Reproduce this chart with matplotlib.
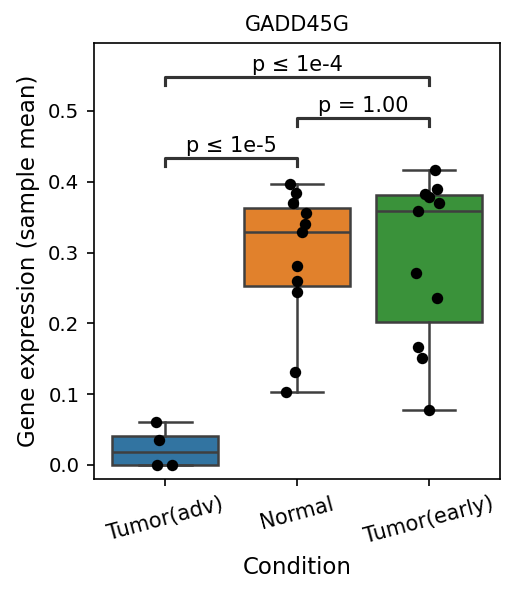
import numpy as np
import matplotlib
matplotlib.use('Agg')
import matplotlib.pyplot as plt

#input data================
conditions = ['Tumor(adv)', 'Normal', 'Tumor(early)']
tumor_adv = [0.060, 0.035, 0.0, 0.0]
normal = [0.397, 0.384, 0.370, 0.356, 0.340, 0.329, 0.281, 0.260, 0.244, 0.131, 0.103]
tumor_early = [0.417, 0.390, 0.383, 0.379, 0.370, 0.359, 0.271, 0.236, 0.167, 0.151, 0.078]
# strip jitter (category units)
jitter_adv = [-0.073, -0.05, -0.063, 0.055]
jitter_normal = [-0.053, -0.01, -0.028, 0.07, 0.063, 0.038, 0.0, 0.0, 0.0, -0.013, -0.08]
jitter_early = [0.05, 0.058, -0.03, 0.0, 0.078, -0.086, -0.096, 0.063, -0.086, -0.05, 0.0]
# significance brackets: (group a, group b, height, label)
pairs = [(0, 1, 0.433, 'p ≤ 1e-5'),
         (1, 2, 0.490, 'p = 1.00'),
         (0, 2, 0.548, 'p ≤ 1e-4')]
#==========================

groups = [tumor_adv, normal, tumor_early]
jitters = [jitter_adv, jitter_normal, jitter_early]
box_colors = ['#3274a1', '#e1812c', '#3a923a']
line_col = '#3f3f3f'

fig = plt.figure(figsize=(515/150, 594/150), dpi=150)
ax = fig.add_axes([0.1825, 0.1936, 0.7885, 0.734])

bp = ax.boxplot(groups, positions=range(len(groups)), widths=0.8,
                patch_artist=True, showfliers=False,
                medianprops=dict(color=line_col, linewidth=1.2),
                whiskerprops=dict(color=line_col, linewidth=1.2),
                capprops=dict(color=line_col, linewidth=1.2),
                boxprops=dict(edgecolor=line_col, linewidth=1.2))
for patch, c in zip(bp['boxes'], box_colors):
    patch.set_facecolor(c)
for caps in bp['caps']:
    x0, x1 = caps.get_xdata()
    mid = (x0 + x1) / 2
    caps.set_xdata([mid - 0.2, mid + 0.2])

for i, (vals, jit) in enumerate(zip(groups, jitters)):
    ax.scatter(np.array(jit) + i, vals, s=30, color='black', zorder=3, linewidths=0)

# brackets
for a, b, h, label in pairs:
    ax.plot([a, a, b, b], [h - 0.011, h, h, h - 0.011], color='#333333', linewidth=1.5)
    ax.text((a + b) / 2, h + 0.003, label, ha='center', va='bottom', fontsize=10)

ax.set_xlim(-0.54, 2.54)
ax.set_ylim(-0.02, 0.596)
ax.set_yticks([0.0, 0.1, 0.2, 0.3, 0.4, 0.5])
ax.set_xticks(range(len(conditions)))
ax.set_xticklabels(conditions, rotation=15, fontsize=10)
ax.tick_params(axis='y', labelsize=9.5)
ax.set_xlabel('Condition', fontsize=11)
ax.set_ylabel('Gene expression (sample mean)', fontsize=11)
ax.set_title('GADD45G', fontsize=10)

plt.savefig('out.png', dpi=150)
